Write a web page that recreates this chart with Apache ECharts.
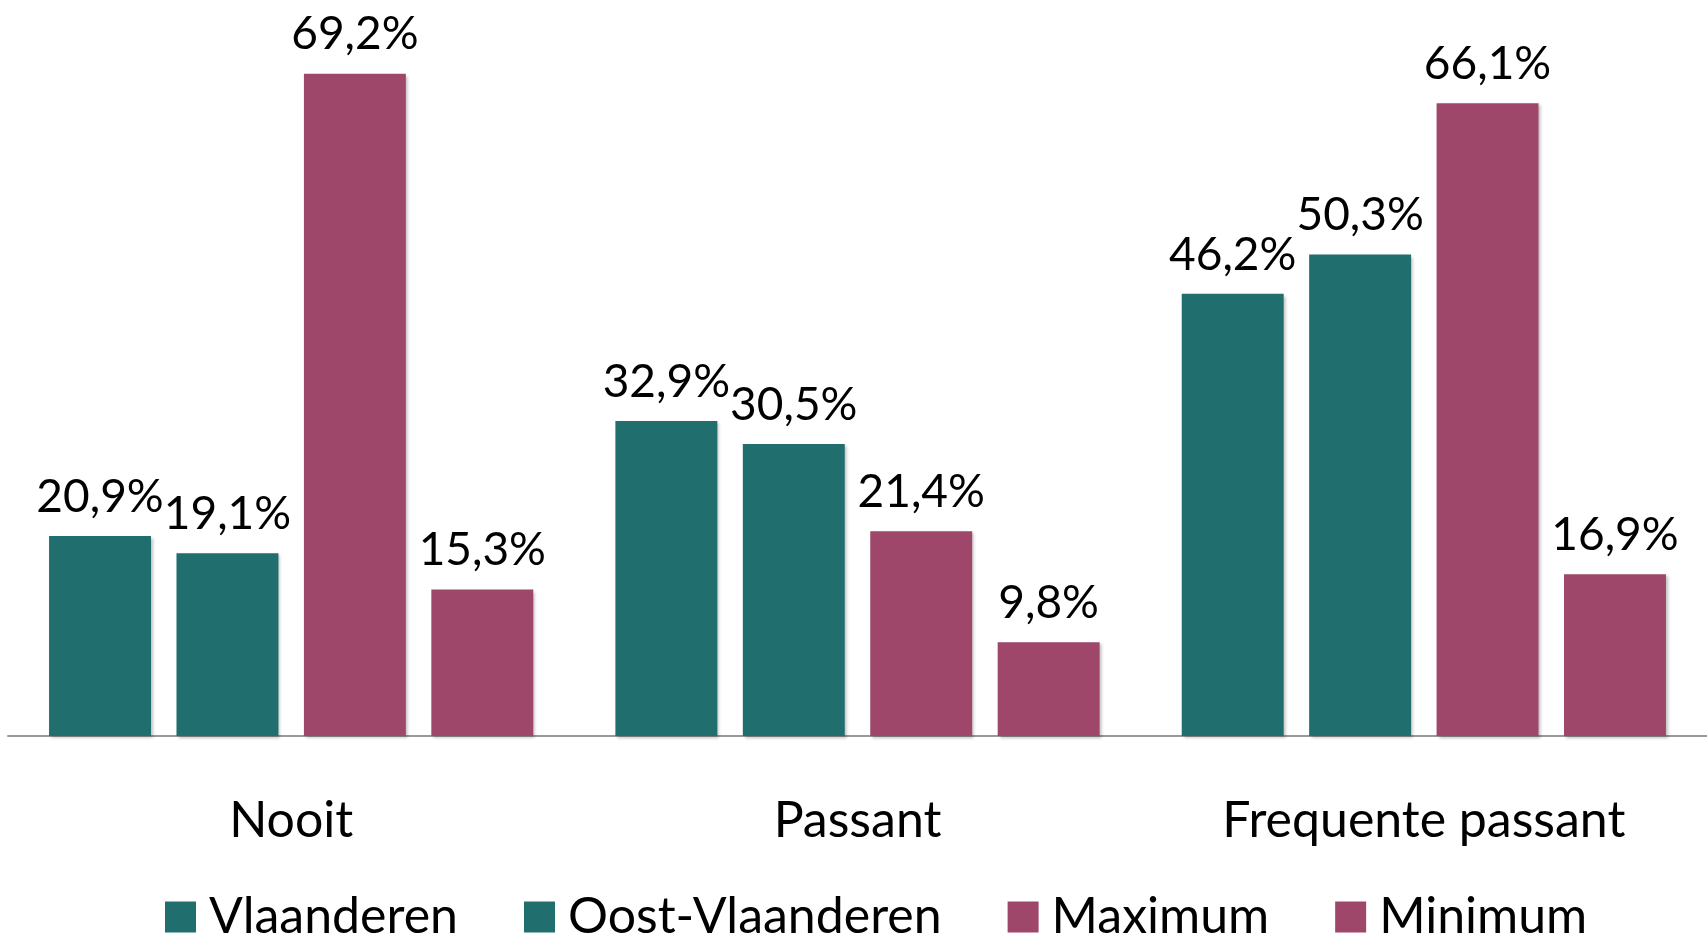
<!DOCTYPE html>
<html>
<head>
<meta charset="utf-8">
<script src="https://cdn.jsdelivr.net/npm/echarts@6/dist/echarts.min.js"></script>
<style>
html, body { margin: 0; padding: 0; background: #fff; }
#chart { width: 1707px; height: 939px; }
</style>
</head>
<body>
<div id="chart"></div>
<script>
var categories = ['Nooit', 'Passant', 'Frequente passant'];
var seriesNames = ['Vlaanderen', 'Oost-Vlaanderen', 'Maximum', 'Minimum'];
var vlaanderen = [20.9, 32.9, 46.2];
var oostVlaanderen = [19.1, 30.5, 50.3];
var maximum = [69.2, 21.4, 66.1];
var minimum = [15.3, 9.8, 16.9];
var colors = ['#206e6d', '#206e6d', '#9e476b', '#9e476b'];

var font = 'Lato';
var values = [vlaanderen, oostVlaanderen, maximum, minimum];

function makeSeries (name, data, color) {
	return {
		name: name,
		type: 'bar',
		data: data,
		barWidth: '18%',
		barGap: '25%',
		itemStyle: {
			color: color,
			shadowColor: 'rgba(0,0,0,0.25)',
			shadowBlur: 3,
			shadowOffsetX: 2,
			shadowOffsetY: 2
		},
		label: {
			show: true,
			position: 'top',
			distance: 16,
			color: '#000',
			fontFamily: font,
			fontSize: 46,
			formatter: function (p) {
				return p.value.toFixed(1).replace('.', ',') + '%';
			}
		}
	};
}

var series = [];
for (var i = 0; i < seriesNames.length; i++) {
	series.push(makeSeries(seriesNames[i], values[i], colors[i]));
}

var option = {
	animation: false,
	grid: { left: 8, right: 0, top: 66, bottom: 203 },
	legend: {
		bottom: -8,
		left: 160,
		itemWidth: 31,
		itemHeight: 31,
		itemGap: 66,
		icon: 'rect',
		data: seriesNames,
		textStyle: { fontFamily: font, fontSize: 50, color: '#000', padding: [0, 0, 0, 8] }
	},
	xAxis: {
		type: 'category',
		data: categories,
		axisLine: { lineStyle: { color: '#999', width: 2 } },
		axisTick: { show: false },
		axisLabel: { color: '#000', fontFamily: font, fontSize: 50, margin: 60 }
	},
	yAxis: {
		type: 'value',
		min: 0,
		max: 70,
		show: false,
		splitLine: { show: false }
	},
	series: series
};

var myChart = echarts.init(document.getElementById('chart'));
myChart.setOption(option);
</script>
</body>
</html>
